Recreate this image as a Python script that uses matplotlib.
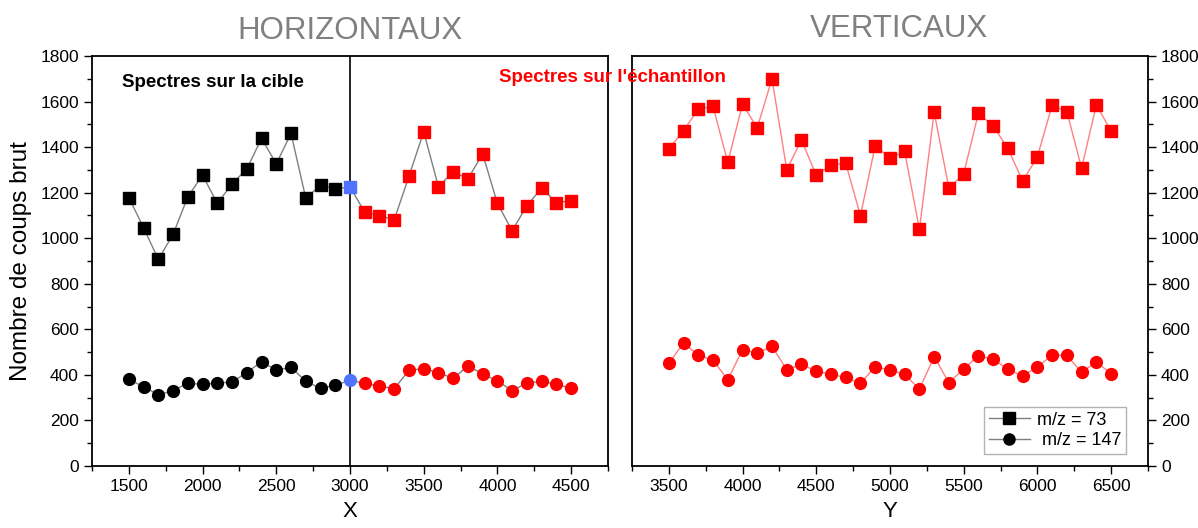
import numpy as np
import matplotlib.pyplot as plt
from matplotlib.ticker import MultipleLocator

plt.rcParams["font.family"] = ["Liberation Sans", "DejaVu Sans"]
plt.rcParams["font.size"] = 12.5

# horizontal scan (X)
x_cible = np.arange(1500, 3000, 100)
mz73_cible = [1178, 1046, 907, 1017, 1182, 1277, 1153, 1239, 1304, 1438,
              1327, 1460, 1176, 1233, 1217]
mz147_cible = [380, 348, 313, 331, 364, 358, 364, 369, 410, 458,
               421, 433, 372, 341, 354]
x_bord = [3000]
mz73_bord = [1225]
mz147_bord = [377]
x_ech = np.arange(3100, 4600, 100)
mz73_ech = [1115, 1099, 1081, 1272, 1468, 1226, 1292, 1261, 1370, 1153,
            1033, 1143, 1220, 1156, 1165]
mz147_ech = [363, 351, 339, 421, 427, 410, 385, 439, 405, 373,
             331, 364, 372, 359, 341]

# vertical scan (Y)
y_pos = np.arange(3500, 6600, 100)
mz73_vert = [1392, 1472, 1567, 1579, 1333, 1589, 1485, 1700, 1301, 1431,
             1277, 1321, 1330, 1099, 1406, 1352, 1381, 1039, 1554, 1220,
             1282, 1548, 1493, 1395, 1251, 1357, 1584, 1556, 1308, 1585, 1471]
mz147_vert = [451, 540, 486, 465, 378, 511, 496, 525, 423, 446,
              417, 402, 389, 363, 436, 421, 402, 337, 480, 366,
              426, 484, 468, 426, 394, 436, 486, 486, 411, 457, 405]

red = "#ff0000"
blue = "#4f72ff"
ms = 8.5

fig = plt.figure(figsize=(11.98, 5.28), dpi=100)
ax1 = fig.add_axes([0.0768, 0.1174, 0.4307, 0.7765])
ax2 = fig.add_axes([0.5275, 0.1174, 0.4307, 0.7765])

# left panel: one grey line through everything, coloured markers
x_all = np.concatenate([x_cible, x_bord, x_ech])
for ser, mk in [((mz73_cible, mz73_bord, mz73_ech), "s"),
                ((mz147_cible, mz147_bord, mz147_ech), "o")]:
    ax1.plot(x_all, np.concatenate(ser), color="#7f7f7f", lw=1, zorder=1)
    ax1.plot(x_cible, ser[0], mk, color="black", ms=ms, zorder=2)
    ax1.plot(x_bord, ser[1], mk, color=blue, ms=ms, zorder=2)
    ax1.plot(x_ech, ser[2], mk, color=red, ms=ms, zorder=2)
ax1.axvline(3000, color="black", lw=1.2, zorder=0)

ax2.plot(y_pos, mz73_vert, "s-", color="#ff8080", mfc=red, mec=red, ms=ms,
         lw=1, zorder=2)
ax2.plot(y_pos, mz147_vert, "o-", color="#ff8080", mfc=red, mec=red, ms=ms,
         lw=1, zorder=2)

for ax in (ax1, ax2):
    ax.set_ylim(0, 1800)
    ax.yaxis.set_major_locator(MultipleLocator(200))
    ax.yaxis.set_minor_locator(MultipleLocator(100))
    ax.xaxis.set_major_locator(MultipleLocator(500))
    ax.xaxis.set_minor_locator(MultipleLocator(250))
    ax.tick_params(which="both", direction="out", width=1)
    ax.tick_params(which="major", length=6)
    ax.tick_params(which="minor", length=3.5)
    for s in ax.spines.values():
        s.set_linewidth(1.3)

ax1.set_xlim(1250, 4750)
ax2.set_xlim(3250, 6750)
ax1.tick_params(axis="y", which="both", left=True, right=False)
ax2.tick_params(axis="y", which="both", left=False, right=True,
                labelleft=False, labelright=True)

ax1.set_ylabel("Nombre de coups brut", fontsize=17.5, labelpad=6)
ax1.set_xlabel("X", fontsize=16, labelpad=5)
ax2.set_xlabel("Y", fontsize=16, labelpad=5)

ax1.set_title("HORIZONTAUX", fontsize=22.5, color="#808080", pad=12)
ax2.set_title("VERTICAUX", fontsize=22.5, color="#808080", pad=14, x=0.517)

ax1.text(0.058, 0.955, "Spectres sur la cible", transform=ax1.transAxes,
         fontsize=13.5, fontweight="bold", ha="left", va="top")
fig.text(0.511, 0.854, "Spectres sur l'échantillon", fontsize=13.5,
         fontweight="bold", color=red, ha="center", va="center")

# legend with black handles
h1, = ax2.plot([], [], "s-", color="#7f7f7f", mfc="black", mec="black", ms=8, lw=1)
h2, = ax2.plot([], [], "o-", color="#7f7f7f", mfc="black", mec="black", ms=8, lw=1)
ax2.legend([h1, h2], ["m/z = 73", " m/z = 147"], loc="lower right",
           bbox_to_anchor=(0.958, 0.03), fontsize=13, frameon=True,
           fancybox=False, edgecolor="#a0a0a0", handlelength=2.3,
           borderpad=0.25, labelspacing=0.2, handletextpad=0.4,
           borderaxespad=0)

fig.savefig("out.png", dpi=100)
